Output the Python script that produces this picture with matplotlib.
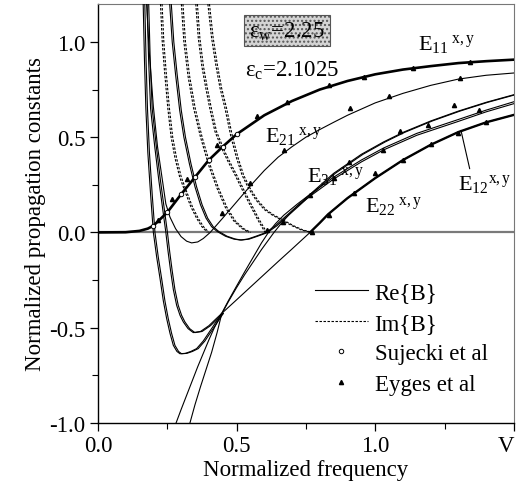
import numpy as np
import matplotlib
matplotlib.use('Agg')
import matplotlib.pyplot as plt
from matplotlib.ticker import MultipleLocator
from matplotlib.lines import Line2D
from matplotlib.transforms import offset_copy

plt.rcParams['font.family'] = ['Liberation Serif', 'DejaVu Serif']
plt.rcParams['mathtext.fontset'] = 'custom'
plt.rcParams['mathtext.rm'] = 'Liberation Serif'
plt.rcParams['mathtext.it'] = 'Liberation Serif:italic'
FS = 16.5

# ---- Re{B} curves ----
v_e11 = [0, 0.1, 0.15, 0.18, 0.2, 0.25, 0.3, 0.35, 0.4, 0.45, 0.5, 0.6, 0.7, 0.8, 0.9, 1.0, 1.1, 1.2, 1.3, 1.4, 1.5]
b_e11 = [0, 0.001, 0.008, 0.02, 0.035, 0.105, 0.2, 0.29, 0.38, 0.45, 0.515, 0.615, 0.69, 0.75, 0.795, 0.83, 0.855, 0.873, 0.889, 0.899, 0.907]

v_a1 = [0.163, 0.168, 0.173, 0.18, 0.19, 0.2, 0.212, 0.224, 0.236, 0.248, 0.26, 0.272, 0.285, 0.296, 0.315, 0.335, 0.356, 0.38, 0.41, 0.446]
b_a1 = [1.22, 0.9, 0.65, 0.42, 0.2, 0.0, -0.13, -0.242, -0.36, -0.453, -0.53, -0.593, -0.625, -0.637, -0.635, -0.625, -0.61, -0.57, -0.505, -0.426]

v_a2 = [0.177, 0.183, 0.19, 0.205, 0.22, 0.233, 0.245, 0.253, 0.262, 0.272, 0.284, 0.296, 0.308, 0.325, 0.344, 0.37, 0.4, 0.425, 0.446]
b_a2 = [1.22, 0.9, 0.65, 0.45, 0.27, 0.13, 0.0, -0.1, -0.2, -0.3, -0.383, -0.435, -0.47, -0.505, -0.526, -0.52, -0.49, -0.455, -0.426]

v_e22 = [0.446, 0.5, 0.55, 0.6, 0.65, 0.7, 0.765, 0.8, 0.83, 0.9, 1.0, 1.1, 1.2, 1.3, 1.4, 1.5]
b_e22 = [-0.426, -0.354, -0.287, -0.22, -0.153, -0.087, 0.0, 0.05, 0.095, 0.18, 0.285, 0.38, 0.46, 0.527, 0.578, 0.617]

v_b1 = [0.265, 0.282, 0.3, 0.32, 0.34, 0.36, 0.38, 0.4, 0.42, 0.446, 0.47, 0.5, 0.53, 0.56, 0.59, 0.615, 0.64, 0.67, 0.72, 0.765, 0.85, 0.95, 1.03, 1.15, 1.3, 1.4, 1.5]
b_b1 = [-1.06, -1.0, -0.93, -0.855, -0.78, -0.705, -0.635, -0.565, -0.5, -0.426, -0.36, -0.282, -0.205, -0.13, -0.055, 0.0, 0.045, 0.09, 0.15, 0.2, 0.29, 0.38, 0.443, 0.52, 0.593, 0.642, 0.686]

v_b2 = [0.318, 0.332, 0.35, 0.37, 0.39, 0.41, 0.43, 0.446, 0.47, 0.5, 0.53, 0.56, 0.59, 0.615, 0.635, 0.66, 0.69, 0.72, 0.765, 0.85, 0.95, 1.03, 1.15, 1.3, 1.4, 1.5]
b_b2 = [-1.07, -1.0, -0.905, -0.81, -0.72, -0.63, -0.525, -0.43, -0.365, -0.29, -0.22, -0.155, -0.09, -0.04, 0.0, 0.045, 0.095, 0.14, 0.19, 0.28, 0.37, 0.433, 0.51, 0.583, 0.633, 0.676]

v_e21 = [0.175, 0.185, 0.2, 0.215, 0.23, 0.245, 0.26, 0.28, 0.3, 0.32, 0.338, 0.36, 0.38, 0.405, 0.45, 0.5, 0.55, 0.6, 0.65, 0.7, 0.75, 0.8, 0.85, 0.9, 1.0, 1.1, 1.2, 1.3, 1.4, 1.5]
b_e21 = [1.22, 0.95, 0.66, 0.45, 0.3, 0.15, 0.08, 0.02, -0.022, -0.046, -0.055, -0.05, -0.032, 0.0, 0.075, 0.16, 0.245, 0.325, 0.395, 0.45, 0.5, 0.54, 0.578, 0.615, 0.68, 0.73, 0.772, 0.805, 0.825, 0.837]

v_e31 = [0.258, 0.268, 0.28, 0.295, 0.31, 0.33, 0.35, 0.37, 0.39, 0.41, 0.43, 0.46, 0.49, 0.513, 0.54, 0.57, 0.6, 0.61, 0.64, 0.67, 0.72, 0.765, 0.85, 0.95, 1.03, 1.1, 1.2, 1.3, 1.4, 1.5]
b_e31 = [1.22, 1.0, 0.83, 0.64, 0.5, 0.36, 0.24, 0.145, 0.075, 0.03, 0.005, -0.02, -0.035, -0.04, -0.035, -0.02, -0.004, 0.004, 0.035, 0.075, 0.14, 0.2, 0.31, 0.41, 0.475, 0.525, 0.585, 0.637, 0.683, 0.723]

# ---- Im{B} curves ----
v_d1 = [0.225, 0.232, 0.24, 0.252, 0.264, 0.278, 0.295, 0.314, 0.335, 0.356, 0.375, 0.395]
b_d1 = [1.22, 1.0, 0.85, 0.653, 0.5, 0.39, 0.29, 0.215, 0.135, 0.074, 0.03, 0.0]
v_d2 = [0.3, 0.31, 0.325, 0.345, 0.37, 0.4, 0.43, 0.46, 0.49, 0.52, 0.545]
b_d2 = [1.22, 1.0, 0.82, 0.653, 0.5, 0.35, 0.23, 0.13, 0.06, 0.02, 0.0]
v_d3 = [0.352, 0.362, 0.375, 0.39, 0.405, 0.422, 0.45, 0.47, 0.495, 0.52, 0.55, 0.575, 0.603]
b_d3 = [1.22, 1.02, 0.87, 0.75, 0.64, 0.53, 0.43, 0.37, 0.3, 0.225, 0.14, 0.07, 0.0]
v_d4 = [0.395, 0.41, 0.425, 0.44, 0.458, 0.48, 0.5, 0.52, 0.543, 0.57, 0.6, 0.63, 0.663, 0.7, 0.735, 0.77]
b_d4 = [1.22, 1.02, 0.88, 0.76, 0.653, 0.5, 0.39, 0.3, 0.232, 0.17, 0.12, 0.09, 0.065, 0.035, 0.012, 0.0]

# ---- reference data points ----
v_suj = [0.2, 0.25, 0.3, 0.35, 0.4, 0.45, 0.5]
b_suj = [0.035, 0.105, 0.2, 0.29, 0.38, 0.45, 0.515]

v_eyg = [0.218, 0.266, 0.32, 0.428, 0.573, 0.681, 0.832, 0.958, 1.138, 1.343,
         0.446, 0.549, 0.671, 0.91, 1.048, 1.305,
         0.609, 0.669, 0.765, 0.904, 1.088, 1.19, 1.285, 1.373,
         0.85, 1.028, 1.0, 1.201, 1.40,
         0.771, 0.832, 0.922, 1.10, 1.30]
b_eyg = [0.065, 0.175, 0.279, 0.458, 0.612, 0.684, 0.772, 0.816, 0.863, 0.895,
         0.1, 0.258, 0.433, 0.653, 0.714, 0.81,
         0.012, 0.056, 0.196, 0.372, 0.535, 0.565, 0.67, 0.644,
         0.284, 0.433, 0.31, 0.465, 0.582,
         0.004, 0.091, 0.205, 0.38, 0.521]

fig = plt.figure(figsize=(5.18, 4.85), dpi=100)
ax = fig.add_axes([0.189, 0.126, 0.803, 0.864])
pair = offset_copy(ax.transData, fig=fig, x=1.6, y=0, units='dots')

ax.axhline(0, color='#7a7a7a', lw=1.6, zorder=1)

thin = dict(color='black', lw=0.8, zorder=3)
ax.plot(v_e11, b_e11, color='black', lw=1.9, zorder=4)
for v, b in [(v_a1, b_a1), (v_a2, b_a2), (v_e21, b_e21), (v_e31, b_e31), (v_b1, b_b1), (v_b2, b_b2)]:
    ax.plot(v, b, **thin)
for v, b in [(v_a1, b_a1), (v_a2, b_a2), (v_e31, b_e31)]:
    ax.plot(v, b, transform=pair, **thin)
b22 = np.array(b_e22)
ax.plot(v_e22, b22, **thin)
ax.plot(v_e22, np.where(b22 >= 0, b22, np.nan), color='black', lw=1.7, zorder=3)

dash = dict(color='black', lw=0.8, ls=(0, (2.2, 1.4)), zorder=3)
for v, b in [(v_d1, b_d1), (v_d2, b_d2), (v_d3, b_d3), (v_d4, b_d4)]:
    ax.plot(v, b, **dash)
    ax.plot(v, b, transform=pair, **dash)

ax.plot(v_suj, b_suj, 'o', ms=3.2, mfc='white', mec='black', mew=0.7, zorder=5)
ax.plot(v_eyg, b_eyg, '^', ms=3.0, color='black', zorder=5)

# mode labels
lab = dict(fontsize=16, ha='left', va='baseline')
ax.text(1.155, 0.965, r'$\mathrm{E}_{11}{}^{\ \mathrm{x,y}}$', **lab)
ax.text(0.603, 0.48, r'$\mathrm{E}_{21}{}^{\ \mathrm{x,y}}$', **lab)
ax.text(0.754, 0.27, r'$\mathrm{E}_{31}{}^{\ \mathrm{x,y}}$', **lab)
ax.text(0.964, 0.112, r'$\mathrm{E}_{22}{}^{\ \mathrm{x,y}}$', **lab)
ax.text(1.30, 0.23, r'$\mathrm{E}_{12}{}^{\mathrm{x,y}}$', **lab)
ax.annotate('', xy=(1.307, 0.55), xytext=(1.343, 0.32),
            arrowprops=dict(arrowstyle='-', color='black', lw=0.8))

ax.text(0.545, 1.03, r'ε$_{\mathrm{w}}$=2.25', fontsize=FS, ha='left', va='baseline',
        bbox=dict(boxstyle='square,pad=0.2', facecolor='#d4d4d4', edgecolor='#555555',
                  hatch='....', lw=0.8))
ax.text(0.53, 0.825, r'ε$_{\mathrm{c}}$=2.1025', fontsize=FS, ha='left', va='baseline')

ax.set_xlim(0, 1.5)
ax.set_ylim(-1.0, 1.2)
ax.set_xticks([0, 0.5, 1.0, 1.5])
ax.set_xticklabels(['0.0', '0.5', '1.0', 'V'])
ax.get_xticklabels()[-1].set_horizontalalignment('right')
ax.set_yticks([-1.0, -0.5, 0.0, 0.5, 1.0])
ax.set_yticklabels(['-1.0', '-0.5', '0.0', '0.5', '1.0'])
ax.xaxis.set_minor_locator(MultipleLocator(0.25))
ax.yaxis.set_minor_locator(MultipleLocator(0.25))
ax.tick_params(which='major', direction='out', length=6, width=0.9, labelsize=FS, pad=3)
ax.tick_params(which='minor', direction='out', length=4, width=0.8)
ax.set_xlabel('Normalized frequency', fontsize=FS, labelpad=2)
ax.set_ylabel('Normalized propagation constants', fontsize=FS, labelpad=2)
for s in ['top', 'right']:
    ax.spines[s].set_color('#777777')
for s in ['left', 'bottom']:
    ax.spines[s].set_linewidth(1.0)

handles = [Line2D([], [], color='black', lw=0.8),
           Line2D([], [], color='black', lw=0.8, ls=(0, (2.2, 1.4))),
           Line2D([], [], ls='none', marker='o', ms=3.2, mfc='white', mec='black', mew=0.7),
           Line2D([], [], ls='none', marker='^', ms=3.0, color='black')]
ax.legend(handles, ['Re{B}', 'Im{B}', 'Sujecki et al', 'Eyges et al'],
          loc='upper left', bbox_to_anchor=(0.5, 0.358), frameon=False, fontsize=FS,
          handlelength=2.3, handletextpad=0.3, labelspacing=0.42, borderaxespad=0)

fig.savefig('out.png', dpi=100)
